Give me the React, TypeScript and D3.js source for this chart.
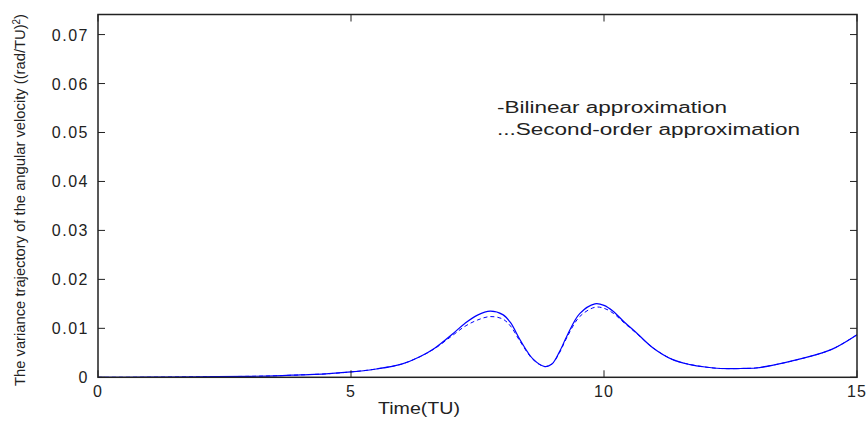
import * as d3 from "d3";
import React, { useRef, useEffect } from "react";

// time points (TU)
const times = [0, 1, 2, 3, 3.5, 4, 4.5, 5, 5.5, 6, 6.36, 6.66, 7.0, 7.25, 7.5, 7.75, 8.0, 8.15, 8.35, 8.6, 8.83, 8.97, 9.12, 9.27, 9.52, 9.82, 10.0, 10.18, 10.4, 10.65, 10.97, 11.36, 11.7, 12.0, 12.3, 12.7, 13.0, 13.3, 13.9, 14.5, 15];

// bilinear approximation (solid)
const bilinear = [0, 0.00002, 0.0001, 0.0002, 0.0003, 0.0005, 0.0007, 0.0011, 0.0017, 0.0027, 0.0042, 0.006, 0.0088, 0.011, 0.0127, 0.0135, 0.0128, 0.0112, 0.0075, 0.0037, 0.0022, 0.0027, 0.0052, 0.0085, 0.013, 0.015, 0.0147, 0.0135, 0.0113, 0.009, 0.006, 0.0036, 0.0026, 0.0021, 0.0018, 0.0018, 0.0019, 0.0024, 0.0038, 0.0057, 0.0087];

// second-order approximation (dashed)
const secondOrder = [0, 0.00002, 0.0001, 0.0002, 0.0003, 0.0005, 0.0007, 0.0011, 0.0017, 0.0027, 0.0042, 0.0059, 0.0085, 0.0104, 0.0117, 0.0124, 0.0119, 0.0105, 0.0072, 0.0036, 0.0022, 0.0027, 0.0050, 0.0082, 0.0124, 0.0143, 0.0141, 0.0131, 0.0111, 0.0089, 0.006, 0.0036, 0.0026, 0.0021, 0.0018, 0.0018, 0.0019, 0.0024, 0.0038, 0.0057, 0.0087];

const xTicks = [0, 5, 10, 15];
const yTicks = [0, 0.01, 0.02, 0.03, 0.04, 0.05, 0.06, 0.07];
const legendLabels = ["-Bilinear approximation", "...Second-order approximation"];
const legendWidths = [230, 303];

function App() {
    const ref = useRef(null);

    useEffect(() => {
        const svg = d3.select(ref.current);
        svg.selectAll("*").remove();

        const left = 98, right = 857, top = 14.5, bottom = 377.3;
        const font = "Arial, 'Liberation Sans', sans-serif";

        const x = d3.scaleLinear().domain([0, 15]).range([left, right]);
        const y = d3.scaleLinear().domain([0, 0.0741]).range([bottom, top]);

        svg.append("rect")
            .attr("width", 868).attr("height", 423).attr("fill", "#fff");

        // curves
        const line = d3.line()
            .x((d, i) => x(times[i]))
            .y(d => y(d))
            .curve(d3.curveCatmullRom.alpha(0.5));

        svg.append("path")
            .datum(secondOrder)
            .attr("d", line)
            .attr("fill", "none")
            .attr("stroke", "#0000ff")
            .attr("stroke-width", 1)
            .attr("stroke-dasharray", "4,3");

        svg.append("path")
            .datum(bilinear)
            .attr("d", line)
            .attr("fill", "none")
            .attr("stroke", "#0000ff")
            .attr("stroke-width", 1.2);

        // box
        svg.append("rect")
            .attr("x", left).attr("y", top)
            .attr("width", right - left).attr("height", bottom - top)
            .attr("fill", "none")
            .attr("stroke", "#222")
            .attr("stroke-width", 1.5);

        const tick = 7;
        xTicks.forEach(t => {
            svg.append("line")
                .attr("x1", x(t)).attr("x2", x(t))
                .attr("y1", bottom).attr("y2", bottom - tick)
                .attr("stroke", "#222");
            svg.append("line")
                .attr("x1", x(t)).attr("x2", x(t))
                .attr("y1", top).attr("y2", top + tick)
                .attr("stroke", "#222");
            svg.append("text")
                .attr("x", x(t)).attr("y", 397)
                .attr("text-anchor", "middle")
                .attr("font-family", font)
                .attr("font-size", 16)
                .attr("letter-spacing", 1)
                .attr("fill", "#222")
                .text(t);
        });

        yTicks.forEach(t => {
            svg.append("line")
                .attr("x1", left).attr("x2", left + tick)
                .attr("y1", y(t)).attr("y2", y(t))
                .attr("stroke", "#222");
            svg.append("line")
                .attr("x1", right).attr("x2", right - tick)
                .attr("y1", y(t)).attr("y2", y(t))
                .attr("stroke", "#222");
            svg.append("text")
                .attr("x", 89).attr("y", y(t) + 6)
                .attr("text-anchor", "end")
                .attr("font-family", font)
                .attr("font-size", 16)
                .attr("letter-spacing", 1.5)
                .attr("fill", "#222")
                .text(t === 0 ? "0" : d3.format(".2f")(t));
        });

        // axis labels
        svg.append("text")
            .attr("x", 378).attr("y", 414)
            .attr("font-family", font)
            .attr("font-size", 16)
            .attr("textLength", 82)
            .attr("lengthAdjust", "spacingAndGlyphs")
            .attr("fill", "#222")
            .text("Time(TU)");

        const yl = svg.append("text")
            .attr("transform", "translate(25,200) rotate(-90)")
            .attr("text-anchor", "middle")
            .attr("font-family", font)
            .attr("font-size", 15)
            .attr("fill", "#222")
            .attr("textLength", 372)
            .attr("lengthAdjust", "spacingAndGlyphs");
        yl.append("tspan").text("The variance trajectory of the angular velocity ((rad/TU)");
        yl.append("tspan").attr("baseline-shift", "super").attr("font-size", 10).text("2");
        yl.append("tspan").text(")");

        // legend
        svg.selectAll(".legendLine")
            .data(legendLabels)
            .enter()
            .append("text")
            .attr("class", "legendLine")
            .attr("x", 497)
            .attr("y", (d, i) => 113 + i * 22)
            .attr("font-family", font)
            .attr("font-size", 16)
            .attr("textLength", (d, i) => legendWidths[i])
            .attr("lengthAdjust", "spacingAndGlyphs")
            .attr("fill", "#222")
            .text(d => d);
    }, []);

    return (
        <svg ref={ref} width={868} height={423}
            style={{ position: "absolute", left: 0, top: 0 }} />
    );
}

export default App;
